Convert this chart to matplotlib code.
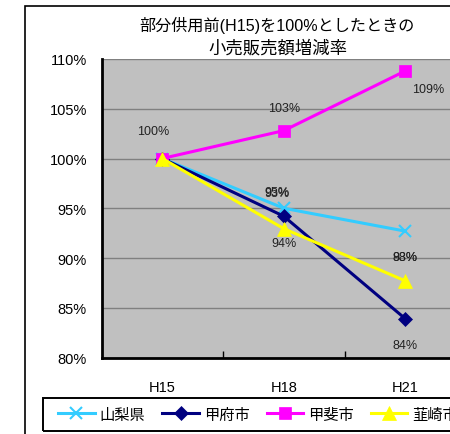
import matplotlib
matplotlib.use("Agg")
import matplotlib.pyplot as plt
from matplotlib.patches import Rectangle

plt.rcParams['font.family'] = ['Liberation Sans', 'Noto Sans CJK JP', 'DejaVu Sans']

categories = ["H15", "H18", "H21"]
series_names = ["山梨県", "甲府市", "甲斐市", "韮崎市"]
yamanashi = [100.0, 95.0, 92.7]
kofu = [100.0, 94.2, 83.9]
kai = [100.0, 102.8, 108.8]
nirasaki = [100.0, 92.95, 87.7]
y_ticks = [80, 85, 90, 95, 100, 105, 110]

values = [yamanashi, kofu, kai, nirasaki]
colors = ["#33CCFF", "#000080", "#FF00FF", "#FFFF00"]
markers = ["x", "D", "s", "^"]
msizes = [9, 7, 9, 10]
# label offsets in pixels (dx, dy) per series per point
label_offsets = [
    [(-9, 28), (-7, 16), (0, -26)],
    [(-9, 28), (0, -27), (0, -26)],
    [(-9, 28), (0, 23), (23, -18)],
    [(-9, 28), (-7, 36), (0, 24)],
]

fig = plt.figure(figsize=(4.5, 4.35), dpi=100)
fig.patch.set_facecolor("white")
ax = fig.add_axes([101.5 / 450, 1 - 358.5 / 435, (466 - 101.5) / 450, (358.5 - 60) / 435])
ax.set_facecolor("#C0C0C0")

x = list(range(len(categories)))
drawn = set()
for i, (name, vals) in enumerate(zip(series_names, values)):
    ax.plot(x, vals, color=colors[i], lw=2.2, marker=markers[i], markersize=msizes[i],
            markeredgewidth=1.5 if markers[i] == "x" else 0.5, markeredgecolor=colors[i],
            label=name, zorder=3 + i, clip_on=False)
    for j, v in enumerate(vals):
        dx, dy = label_offsets[i][j]
        txt = f"{round(v):d}%"
        if (txt, j) in drawn:
            continue
        drawn.add((txt, j))
        ax.annotate(txt, (x[j], v), xytext=(dx * 0.72, dy * 0.72),
                    textcoords="offset points", ha="center", va="center",
                    fontsize=9, color="#222222", zorder=10)

ax.set_xlim(-0.5, len(categories) - 0.5)
ax.set_ylim(80, 110)
ax.set_yticks(y_ticks)
ax.set_yticklabels([f"{t}%" for t in y_ticks], fontsize=10.5)
ax.yaxis.grid(True, color="#808080", lw=1)
ax.set_axisbelow(True)
ax.set_xticks(x)
ax.set_xticklabels(categories, fontsize=10.5)
ax.tick_params(axis="x", length=0, pad=16)
ax.set_xticks([0.5, 1.5], minor=True)
ax.tick_params(axis="x", which="minor", direction="in", length=5, width=1)
ax.tick_params(axis="y", length=0, pad=10.5)
for s in ["top", "right"]:
    ax.spines[s].set_visible(False)
for s in ["left", "bottom"]:
    ax.spines[s].set_linewidth(2)

fig.text(277 / 450, 1 - 25 / 435, "部分供用前(H15)を100%としたときの", ha="center", va="center", fontsize=11.6)
fig.text(278 / 450, 1 - 48 / 435, "小売販売額増減率", ha="center", va="center", fontsize=12.5)

# chart outer border
fig.patches.append(Rectangle((25 / 450, -0.2), 1.2, 1.2 - 7 / 435, transform=fig.transFigure,
                             fill=False, edgecolor="black", lw=1.2, clip_on=False))
# legend frame
fig.patches.append(Rectangle((43 / 450, 1 - 432 / 435), 1.0, 33 / 435, transform=fig.transFigure,
                             fill=False, edgecolor="black", lw=1.4, clip_on=False))

leg = fig.legend(loc="center left", bbox_to_anchor=(58 / 450, 1 - 415.5 / 435), ncol=4,
                 fontsize=11, frameon=False,
                 handlelength=2.4, handletextpad=0.33, columnspacing=1.1,
                 borderpad=0, borderaxespad=0)

fig.savefig("out.png", dpi=100)
